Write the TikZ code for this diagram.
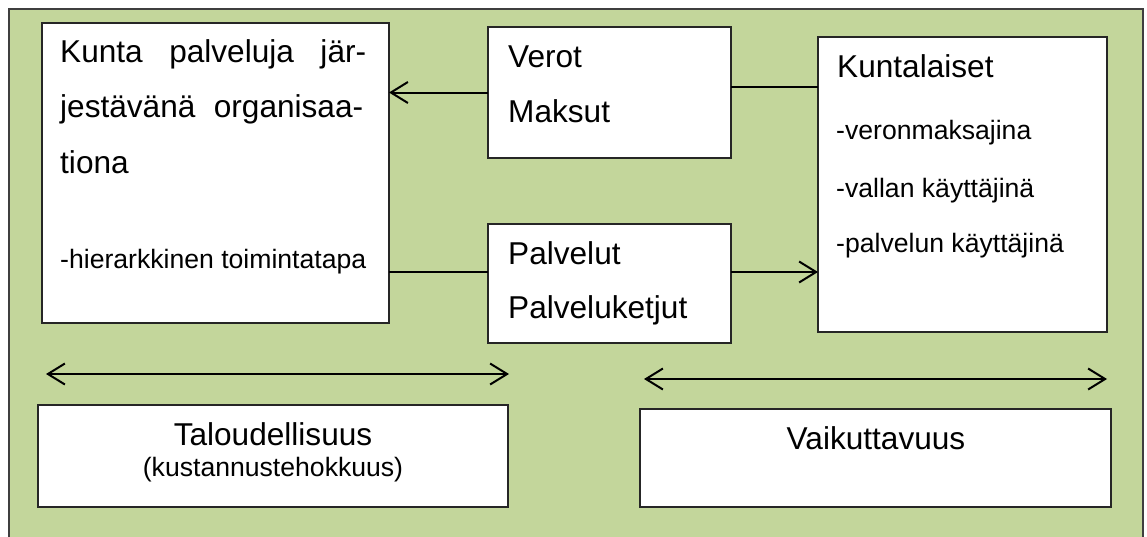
\documentclass[tikz,border=0pt]{standalone}
\usepackage{fontspec}
\setmainfont{Liberation Sans}
\usetikzlibrary{arrows.meta}
\definecolor{olivebg}{HTML}{C3D69B}
\definecolor{framegray}{HTML}{3F3F3F}
\newcommand{\lgfont}{\fontsize{31.6}{38}\selectfont}
\newcommand{\smfont}{\fontsize{26.6}{32}\selectfont}

\begin{document}
\begin{tikzpicture}[x=1pt,y=-1pt,
  box/.style={draw=black!85, line width=1.2pt, fill=white, inner sep=0pt, outer sep=0pt, anchor=north west},
  lbl/.style={inner sep=0pt, anchor=base west},
  clbl/.style={inner sep=0pt, anchor=base},
  conn/.style={line width=1.5pt},
  barb/.style={Straight Barb[length=17pt,width=21pt]},
  arr/.style={line width=2pt, -{Straight Barb[length=17pt,width=21pt]}},
  dbl/.style={line width=2pt, {Straight Barb[length=17pt,width=21pt]}-{Straight Barb[length=17pt,width=21pt]}}
]
\useasboundingbox (0,0) rectangle (1147,536);

% green panel with its frame (bottom edge runs off the page)
\begin{scope}
  \clip (0,0) rectangle (1147,536);
  \draw[fill=olivebg, draw=framegray, line width=2pt] (9,9) rectangle (1143,570);
\end{scope}

% boxes
\node[box, minimum width=347pt, minimum height=300pt] (org)   at (42,23)  {};
\node[box, minimum width=243pt, minimum height=131pt] (verot) at (488,27) {};
\node[box, minimum width=243pt, minimum height=119pt] (palv)  at (488,224) {};
\node[box, minimum width=289pt, minimum height=295pt] (kunt)  at (818,37) {};
\node[box, minimum width=470pt, minimum height=102pt] (talous) at (38,405) {};
\node[box, minimum width=471pt, minimum height=98pt]  (vaik)  at (640,409) {};

% organisation box text
\node[lbl] (orgA) at (60,62)  {\lgfont\hbox to 306pt{Kunta\hfill palveluja\hfill jär-}};
\node[lbl] (orgB) at (60,117) {\lgfont\hbox to 303pt{jestävänä\hfill organisaa-}};
\node[lbl] (orgC) at (60,173) {\lgfont tiona};
\node[lbl] (orgD) at (60,268) {\smfont -hierarkkinen toimintatapa};

% payments box text
\node[lbl] (verA) at (508,67)  {\lgfont Verot};
\node[lbl] (verB) at (508,122) {\lgfont Maksut};

% services box text
\node[lbl] (palA) at (508,264) {\lgfont Palvelut};
\node[lbl] (palB) at (508,318) {\lgfont Palveluketjut};

% residents box text
\node[lbl] (kunA) at (837,77)  {\lgfont Kuntalaiset};
\node[lbl] (kunB) at (836,139) {\smfont -veronmaksajina};
\node[lbl] (kunC) at (836,197) {\smfont -vallan käyttäjinä};
\node[lbl] (kunD) at (836,252) {\smfont -palvelun käyttäjinä};

% bottom boxes text
\node[clbl] (talA) at (273,445) {\lgfont Taloudellisuus};
\node[clbl] (talB) at (273,476) {\smfont (kustannustehokkuus)};
\node[clbl] (vaiA) at (876,449) {\lgfont Vaikuttavuus};

% connectors
\draw[arr] (verot.west) -- (verot.west -| org.east);
\coordinate (ve) at ([yshift=5.5pt]verot.east);
\draw[conn] (ve) -- (ve -| kunt.west);
\coordinate (pw) at ([yshift=11.5pt]palv.west);
\draw[conn] (pw -| org.east) -- (pw);
\coordinate (pe) at ([yshift=11.5pt]palv.east);
\draw[arr] (pe) -- (pe -| kunt.west);

% range arrows above the bottom boxes
\coordinate (taL) at (46,374);
\coordinate (taR) at (509,374);
\draw[dbl] (taL) -- (taR);
\coordinate (vaL) at (644,379);
\coordinate (vaR) at (1107,379);
\draw[dbl] (vaL) -- (vaR);
\end{tikzpicture}
\end{document}
